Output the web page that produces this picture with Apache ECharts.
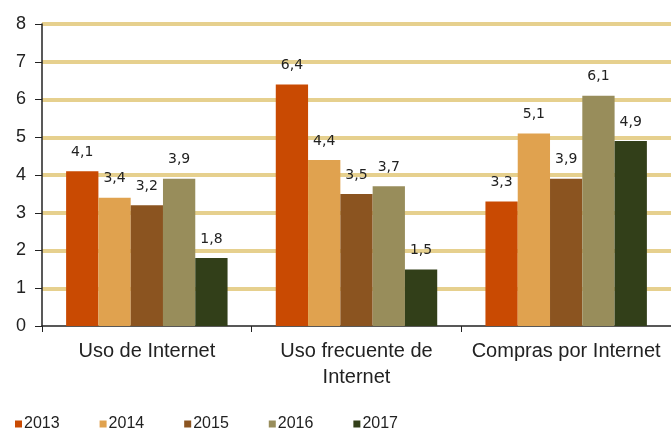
<!DOCTYPE html>
<html><head><meta charset="utf-8">
<script src="https://cdn.jsdelivr.net/npm/echarts@6/dist/echarts.min.js"></script>
<style>html,body{margin:0;padding:0;background:#fff}#c{width:671px;height:432px}</style>
</head><body><div id="c"></div>
<script>
const categories = ['Uso de Internet', 'Uso frecuente de\nInternet', 'Compras por Internet'];
const years = ['2013', '2014', '2015', '2016', '2017'];
const v2013 = [4.1, 6.4, 3.3];
const v2014 = [3.4, 4.4, 5.1];
const v2015 = [3.2, 3.5, 3.9];
const v2016 = [3.9, 3.7, 6.1];
const v2017 = [1.8, 1.5, 4.9];
const yTicks = [0, 1, 2, 3, 4, 5, 6, 7, 8];
const colors = ['#C94A02', '#E0A24F', '#8B5420', '#988D5B', '#323F19'];
const allValues = [v2013, v2014, v2015, v2016, v2017];

const chart = echarts.init(document.getElementById('c'));
chart.setOption({
  animation: false,
  textStyle: { fontFamily: 'Liberation Sans, Arial, sans-serif' },
  grid: { left: 42, right: 0, top: 24, bottom: 106 },
  legend: {
    left: 10, bottom: -5, itemWidth: 7, itemHeight: 7, itemGap: 40,
    icon: 'rect',
    textStyle: { fontSize: 16, color: '#222', padding: [2, 0, 0, -3] },
    data: years
  },
  xAxis: {
    type: 'category', data: categories,
    axisLine: { lineStyle: { color: '#222', width: 1.5 } },
    axisTick: { show: true, length: 6, interval: 0, lineStyle: { color: '#222' } },
    axisLabel: { fontSize: 20, color: '#222', margin: 12, lineHeight: 26, interval: 0, hideOverlap: false }
  },
  yAxis: {
    type: 'value', min: yTicks[0], max: yTicks[yTicks.length - 1], interval: 1,
    axisLine: { show: true, lineStyle: { color: '#222', width: 1.5 } },
    axisTick: { show: true, length: 7, lineStyle: { color: '#222' } },
    axisLabel: { fontSize: 18, color: '#222', margin: 16 },
    splitLine: { showMinLine: false, lineStyle: { color: '#E6D08E', width: 4 } }
  },
  series: years.map((y, i) => ({
    name: y, type: 'bar', data: allValues[i],
    barGap: '0%', barCategoryGap: '23%',
    itemStyle: { color: colors[i] },
    label: {
      show: true, position: 'top', distance: 12, fontSize: 14, color: '#222',
      fontFamily: 'DejaVu Sans, sans-serif',
      formatter: p => String(p.value).replace('.', ',')
    }
  }))
});
</script></body></html>
